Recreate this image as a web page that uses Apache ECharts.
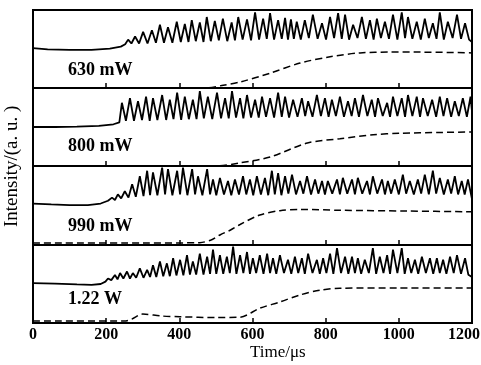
<!DOCTYPE html>
<html><head><meta charset="utf-8">
<script src="https://cdn.jsdelivr.net/npm/echarts@6/dist/echarts.min.js"></script>
<style>html,body{margin:0;padding:0;background:#fff}#c{width:481px;height:365px}</style>
</head><body><div id="c"></div>
<script>
// ---- data (time in μs, intensity in arbitrary units, 0-100 per panel) ----
const xTicks = [0, 200, 400, 600, 800, 1000, 1200];
const panelLabels = ['630 mW', '800 mW', '990 mW', '1.22 W'];

const trace630 = [[0,51],[40,49.5],[100,49],[160,49],[210,50.5],[240,53],[252,56],
[260,62],[269,57],[279,66],[290,57],[301,72],[313,57],[325,74],[336,58],[347,81],[358,58],[369,78],[381,58],[393,85],[404,59],[415,82],[425,59],[434,87],[445,60],[456,84],[466,59],[475,91],[486,60],[497,86],[508,61],[519,89],[531,60],[543,84],[552,61],[561,91],[573,62],[585,88],[596,61],[607,97],[618,62],[629,89],[639,63],[648,96],[659,62],[670,87],[680,63],[689,90],[697,62],[705,88],[713,63],[721,85],[732,62],[743,87],[754,64],[765,94],[778,63],[790,83],[801,62],[812,91],[823,64],[834,96],[844,63],[853,94],[864,62],[875,81],[887,64],[899,91],[910,63],[921,87],[931,62],[940,89],[951,64],[962,85],[973,63],[984,94],[996,62],[1008,97],[1017,64],[1025,91],[1037,63],[1049,85],[1060,62],[1071,89],[1082,64],[1093,83],[1103,63],[1112,97],[1123,62],[1134,85],[1147,64],[1159,94],[1170,63],[1181,83],[1192,62],[1200,59]];
const dash630 = [[0,0],[470,0],[520,3.5],[566,7.7],[648,19],[730,32],[812,40],[894,45],[976,46],[1058,46],[1200,45]];

const trace800 = [[0,50],[60,50],[120,50.5],[180,51.5],[220,53.5],[236,56],
[243,81],[254,58],[265,87],[276,58],[287,83],[298,59],[309,89],[319,58],[328,87],[340,59],[353,91],[364,59],[374,85],[384,60],[394,94],[405,59],[415,89],[426,60],[437,85],[447,60],[456,96],[467,61],[478,89],[490,60],[503,94],[514,61],[525,87],[535,61],[544,96],[555,62],[566,87],[575,61],[585,91],[596,62],[607,85],[617,62],[626,89],[637,63],[648,87],[659,62],[670,94],[680,63],[689,89],[700,62],[711,85],[723,63],[735,87],[744,64],[752,83],[764,63],[776,91],[787,64],[798,87],[808,63],[817,85],[828,64],[839,89],[850,63],[861,83],[871,64],[880,87],[891,63],[902,91],[914,64],[926,85],[935,63],[943,87],[956,64],[968,81],[976,63],[984,89],[996,64],[1008,87],[1017,63],[1025,91],[1037,64],[1049,89],[1058,63],[1066,87],[1079,64],[1091,85],[1102,63],[1112,89],[1122,64],[1132,87],[1143,63],[1153,83],[1164,64],[1175,87],[1186,63],[1196,89],[1200,70]];
const dash800 = [[0,0],[500,0],[566,4],[648,11.5],[750,29.5],[839,35],[930,40],[1003,42],[1112,43],[1200,43.6]];

const trace990 = [[0,52.5],[50,51.5],[100,50.6],[150,50.6],[185,52.5],[205,56],
[216,60],[224,57],[232,64],[241,59],[251,68],[261,60],[271,77],[281,61],[292,87],[302,62],[312,94],[320,63],[328,92],[340,63],[353,98],[361,64],[369,96],[381,63],[394,94],[402,64],[410,98],[422,63],[435,96],[443,64],[451,87],[463,63],[476,96],[484,64],[492,83],[501,63],[511,85],[522,64],[533,81],[542,63],[552,83],[563,64],[574,87],[583,64],[593,83],[602,63],[612,87],[623,64],[634,85],[643,63],[653,94],[661,64],[670,91],[679,63],[689,87],[698,65],[708,89],[719,64],[730,81],[739,65],[749,87],[760,64],[771,83],[780,65],[790,81],[798,64],[806,81],[818,65],[831,83],[839,64],[847,85],[859,65],[872,83],[880,64],[888,85],[900,65],[913,81],[921,64],[929,87],[941,65],[954,83],[962,64],[970,81],[979,65],[989,83],[1000,64],[1011,89],[1020,65],[1030,81],[1041,64],[1052,83],[1061,65],[1071,89],[1082,64],[1093,94],[1102,65],[1112,85],[1123,64],[1134,83],[1143,65],[1153,87],[1162,64],[1172,81],[1180,64],[1189,83],[1200,58]];
const dash990 = [[0,2.5],[300,2.5],[456,3],[490,7],[511,12.7],[540,19],[566,26],[620,38],[675,43.5],[730,45],[839,44],[1022,43],[1200,42]];

const trace122 = [[0,51],[60,50.5],[120,49.5],[160,49],[185,50],[198,53],
[205,57],[214,55],[224,61.5],[231,56],[238,64],[247,57],[257,66],[265,57],[273,64],[282,58],[292,70],[302,58],[312,68],[320,59],[328,74],[337,59],[347,79],[356,60],[366,76.5],[374,60],[383,83],[392,61],[402,81],[411,61],[421,87],[429,62],[437,79],[446,62],[456,89],[466,62],[476,85],[484,63],[492,94],[501,63],[511,87],[520,63],[530,85],[538,64],[547,98],[556,63],[566,87],[575,64],[585,91],[593,63],[601,83],[610,64],[620,87],[630,63],[640,89],[648,64],[656,83],[665,63],[675,87],[686,64],[697,81],[706,63],[716,85],[725,64],[735,83],[743,63],[752,89],[764,64],[776,81],[784,63],[793,83],[802,64],[812,89],[821,63],[831,96],[842,64],[853,85],[862,63],[872,85],[880,64],[888,83],[897,63],[907,81],[918,64],[929,96],[938,63],[948,85],[958,64],[968,87],[976,63],[984,94],[996,64],[1008,96],[1016,63],[1025,83],[1034,64],[1044,81],[1053,63],[1063,85],[1074,64],[1085,83],[1094,63],[1104,83],[1112,64],[1121,81],[1130,63],[1140,85],[1150,64],[1159,87],[1170,63],[1181,83],[1190,62],[1200,59]];
const dash122 = [[0,2.5],[250,2.5],[270,5],[300,11.5],[350,9],[402,8],[500,7],[566,7.5],[620,19],[675,27],[730,36],[784,42],[839,44.5],[1000,45],[1200,45]];

const traces = [trace630, trace800, trace990, trace122];
const dashes = [dash630, dash800, dash990, dash122];

// ---- layout ----
const tops = [10, 88, 166, 245];
const heights = [78, 78, 79, 78];
const labelY = [71, 147, 227, 300];
const serif = 'Liberation Serif';

const grids = [], xAxes = [], yAxes = [], series = [], graphics = [];
for (let i = 0; i < 4; i++) {
  const last = i === 3;
  grids.push({left: 33, right: 9, top: tops[i], height: heights[i], show: true,
    containLabel: false, outerBoundsMode: 'none',
    borderColor: '#000', borderWidth: 2, backgroundColor: 'transparent'});
  xAxes.push({gridIndex: i, type: 'value', min: 0, max: 1200, interval: 200,
    axisLine: {show: true, lineStyle: {color: '#000', width: 2}},
    axisTick: {show: true, inside: true, length: 5, lineStyle: {color: '#000', width: 1.5}},
    axisLabel: {show: last, color: '#000', fontFamily: serif, fontSize: 16, fontWeight: 'bold', margin: 4,
      formatter: v => v === 1200 ? '{r|1200}' : String(v),
      rich: {r: {color: '#000', fontFamily: serif, fontSize: 16, fontWeight: 'bold', padding: [0, 16, 0, 0]}}},
    splitLine: {show: false}});
  yAxes.push({gridIndex: i, type: 'value', min: 0, max: 100,
    axisLine: {show: true, lineStyle: {color: '#000', width: 2}},
    axisTick: {show: false}, axisLabel: {show: false}, splitLine: {show: false}});
  series.push({type: 'line', xAxisIndex: i, yAxisIndex: i, data: traces[i], symbol: 'none',
    lineStyle: {color: '#000', width: 1.8}, animation: false});
  series.push({type: 'line', xAxisIndex: i, yAxisIndex: i, data: dashes[i], symbol: 'none', smooth: 0.3,
    lineStyle: {color: '#000', width: 1.5, type: [7, 4]}, animation: false});
  graphics.push({type: 'text', left: 68, top: labelY[i] - 10,
    style: {text: panelLabels[i], fill: '#000', font: 'bold 18px "' + serif + '"'}});
}
graphics.push({type: 'text', left: 250, top: 344,
  style: {text: 'Time/μs', fill: '#000', font: '17px "' + serif + '"'}});
graphics.push({type: 'text', x: 3, y: 227, rotation: Math.PI / 2, originX: 0, originY: 0,
  style: {text: 'Intensity/(a. u. )', fill: '#000', font: '19px "' + serif + '"', textVerticalAlign: 'top'}});

const chart = echarts.init(document.getElementById('c'), null, {renderer: 'canvas'});
chart.setOption({backgroundColor: '#fff', animation: false, grid: grids, xAxis: xAxes, yAxis: yAxes,
  series: series, graphic: graphics});
</script></body></html>
